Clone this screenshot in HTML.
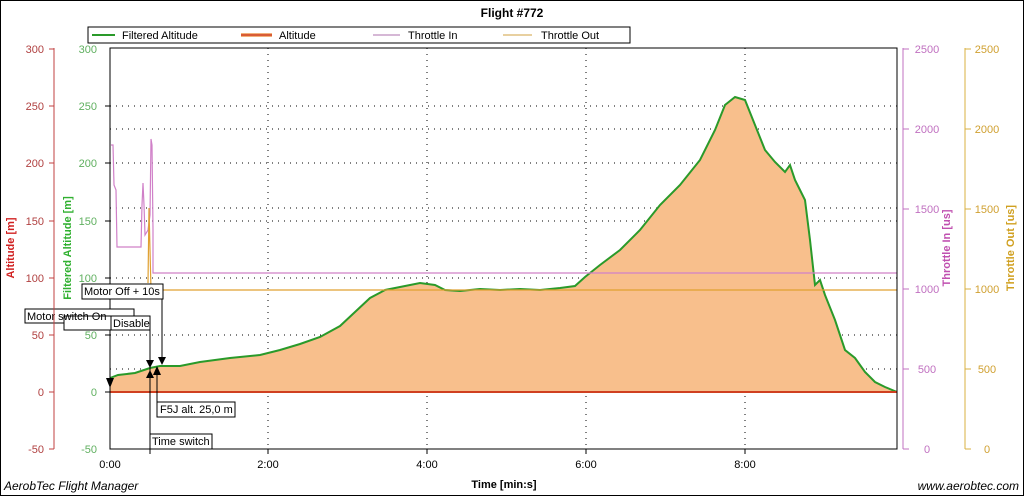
<!DOCTYPE html>
<html><head><meta charset="utf-8"><style>
body{margin:0;background:#fff;}
svg{display:block;font-family:"Liberation Sans",sans-serif;}
</style></head><body>
<svg width="1024" height="496" viewBox="0 0 1024 496" xmlns="http://www.w3.org/2000/svg">
<rect x="0.5" y="0.5" width="1023" height="495" fill="#fff" stroke="#000"/>
<text x="512" y="17" font-size="12" font-weight="bold" text-anchor="middle">Flight #772</text>
<!-- legend -->
<rect x="88" y="27" width="542" height="16" fill="#fff" stroke="#000"/>
<line x1="92" y1="35" x2="115" y2="35" stroke="#2a9a2a" stroke-width="2"/>
<text x="122" y="39" font-size="11">Filtered Altitude</text>
<line x1="241" y1="35" x2="272" y2="35" stroke="#f2b07a" stroke-width="4"/>
<line x1="241" y1="35" x2="272" y2="35" stroke="#d04020" stroke-width="1.5"/>
<text x="279" y="39" font-size="11">Altitude</text>
<line x1="373" y1="35" x2="400" y2="35" stroke="#c8a0c8" stroke-width="1.5"/>
<text x="408" y="39" font-size="11">Throttle In</text>
<line x1="503" y1="35" x2="532" y2="35" stroke="#e0c080" stroke-width="1.5"/>
<text x="541" y="39" font-size="11">Throttle Out</text>
<!-- grid -->
<g stroke="#000" stroke-dasharray="1,5" stroke-width="1">
<line x1="110" y1="106" x2="897" y2="106"/><line x1="110" y1="129" x2="897" y2="129"/>
<line x1="110" y1="163" x2="897" y2="163"/><line x1="110" y1="208" x2="897" y2="208"/>
<line x1="110" y1="221" x2="897" y2="221"/><line x1="110" y1="278" x2="897" y2="278"/>
<line x1="110" y1="335" x2="897" y2="335"/><line x1="110" y1="369" x2="897" y2="369"/>
<line x1="268" y1="48" x2="268" y2="449"/><line x1="427" y1="48" x2="427" y2="449"/>
<line x1="586" y1="48" x2="586" y2="449"/><line x1="745" y1="48" x2="745" y2="449"/>
</g>
<!-- area -->
<polygon fill="#f8bf8c" points="110,392 110,378 118,375 135,373 150,368 160,366 180,366 200,362 230,358 260,355 280,350 300,344 320,337 340,326 355,312 370,298 385,290 400,287 420,283 435,285 445,290 460,291 480,289 500,290 520,289 540,290 560,288 575,286 585,277 600,265 620,250 640,230 660,205 680,185 700,160 715,130 725,105 735,97 745,100 755,125 765,150 775,162 785,172 790,165 795,180 800,190 805,200 810,240 815,285 820,280 825,295 835,320 845,350 855,358 865,372 875,382 885,387 897,392"/>
<polyline fill="none" stroke="#2a9a2a" stroke-width="2" points="110,378 118,375 135,373 150,368 160,366 180,366 200,362 230,358 260,355 280,350 300,344 320,337 340,326 355,312 370,298 385,290 400,287 420,283 435,285 445,290 460,291 480,289 500,290 520,289 540,290 560,288 575,286 585,277 600,265 620,250 640,230 660,205 680,185 700,160 715,130 725,105 735,97 745,100 755,125 765,150 775,162 785,172 790,165 795,180 800,190 805,200 810,240 815,285 820,280 825,295 835,320 845,350 855,358 865,372 875,382 885,387 897,392"/>
<line x1="110" y1="392" x2="897" y2="392" stroke="#d04020" stroke-width="2"/>
<!-- throttle -->
<polyline fill="none" stroke="#d080c8" stroke-width="1.2" points="111,145 113,145 114,185 116,190 117,247 141,247 142,205 143,183 144,205 145,235 148,230 150,215 151,139 152,145 153,230 153,273 897,273"/>
<polyline fill="none" stroke="#e0a030" stroke-width="1.2" points="148,283 149,208 150,250 151,290 897,290"/>
<!-- frame -->
<rect x="110" y="48" width="787" height="401" fill="none" stroke="#000"/>
<!-- annotations -->
<g font-size="11" stroke="none">
<line x1="110" y1="330" x2="110" y2="380" stroke="#000"/>
<polygon points="106,378 114,378 110,388"/>
<rect x="25" y="309" width="109" height="14" fill="#fff" stroke="#000"/>
<rect x="64" y="316" width="86" height="14" fill="#fff" stroke="#000"/>
<text x="27" y="320">Motor switch On</text>
<rect x="111" y="316" width="39" height="14" fill="#fff" stroke="#000"/>
<text x="113" y="327">Disable</text>
<rect x="82" y="284" width="81" height="15" fill="#fff" stroke="#000"/>
<text x="84" y="295">Motor Off + 10s</text>
<line x1="150" y1="330" x2="150" y2="440" stroke="#000"/>
<polygon points="146,360 154,360 150,368"/>
<polygon points="146,378 154,378 150,370"/>
<line x1="162" y1="299" x2="162" y2="360" stroke="#000"/>
<polygon points="158,357 166,357 162,365"/>
<polygon points="153,375 161,375 157,366"/>
<line x1="157" y1="375" x2="157" y2="405" stroke="#000"/>
<rect x="157" y="402" width="78" height="15" fill="#fff" stroke="#000"/>
<text x="160" y="413">F5J alt. 25,0 m</text>
<rect x="150" y="434" width="62" height="15" fill="#fff" stroke="#000"/>
<text x="152" y="445">Time switch</text>
</g>
<!-- left red axis -->
<g stroke="#c04040"><line x1="54" y1="48" x2="54" y2="449"/>
<line x1="49" y1="49" x2="54" y2="49"/><line x1="49" y1="106" x2="54" y2="106"/><line x1="49" y1="163" x2="54" y2="163"/><line x1="49" y1="221" x2="54" y2="221"/><line x1="49" y1="278" x2="54" y2="278"/><line x1="49" y1="335" x2="54" y2="335"/><line x1="49" y1="392" x2="54" y2="392"/><line x1="49" y1="449" x2="54" y2="449"/></g>
<g font-size="11" fill="#b04040" text-anchor="end">
<text x="44" y="53">300</text><text x="44" y="110">250</text><text x="44" y="167">200</text><text x="44" y="225">150</text><text x="44" y="282">100</text><text x="44" y="339">50</text><text x="44" y="396">0</text><text x="44" y="453">-50</text></g>
<text transform="translate(14,248) rotate(-90)" font-size="11" font-weight="bold" fill="#d02020" text-anchor="middle">Altitude [m]</text>
<!-- green axis -->
<g stroke="#000"><line x1="105" y1="106" x2="110" y2="106"/><line x1="105" y1="163" x2="110" y2="163"/><line x1="105" y1="221" x2="110" y2="221"/><line x1="105" y1="278" x2="110" y2="278"/><line x1="105" y1="335" x2="110" y2="335"/><line x1="105" y1="392" x2="110" y2="392"/></g>
<g font-size="11" fill="#60b060" text-anchor="end">
<text x="97" y="53">300</text><text x="97" y="110">250</text><text x="97" y="167">200</text><text x="97" y="225">150</text><text x="97" y="282">100</text><text x="97" y="339">50</text><text x="97" y="396">0</text><text x="97" y="453">-50</text></g>
<text transform="translate(71,248) rotate(-90)" font-size="11" font-weight="bold" fill="#30b030" text-anchor="middle">Filtered Altitude [m]</text>
<!-- x axis -->
<g stroke="#000"><line x1="268" y1="449" x2="268" y2="454"/><line x1="427" y1="449" x2="427" y2="454"/><line x1="586" y1="449" x2="586" y2="454"/><line x1="745" y1="449" x2="745" y2="454"/><line x1="150" y1="449" x2="150" y2="454"/></g>
<g font-size="11" text-anchor="middle"><text x="110" y="468">0:00</text><text x="268" y="468">2:00</text><text x="427" y="468">4:00</text><text x="586" y="468">6:00</text><text x="745" y="468">8:00</text></g>
<text x="504" y="488" font-size="11" font-weight="bold" text-anchor="middle">Time [min:s]</text>
<text x="4" y="490" font-size="12" font-style="italic">AerobTec Flight Manager</text>
<text x="1019" y="490" font-size="12" font-style="italic" text-anchor="end">www.aerobtec.com</text>
<!-- right axes -->
<g stroke="#c070c0"><line x1="903" y1="48" x2="903" y2="449"/><line x1="903" y1="49" x2="909" y2="49"/><line x1="903" y1="129" x2="909" y2="129"/><line x1="903" y1="209" x2="909" y2="209"/><line x1="903" y1="289" x2="909" y2="289"/><line x1="903" y1="369" x2="909" y2="369"/><line x1="903" y1="449" x2="909" y2="449"/></g>
<g font-size="11" fill="#c070c0" text-anchor="middle"><text x="927" y="53">2500</text><text x="927" y="133">2000</text><text x="927" y="213">1500</text><text x="927" y="293">1000</text><text x="927" y="373">500</text><text x="927" y="453">0</text></g>
<text transform="translate(950,248) rotate(-90)" font-size="11" font-weight="bold" fill="#c050b0" text-anchor="middle">Throttle In [us]</text>
<g stroke="#d8b040"><line x1="965" y1="48" x2="965" y2="449"/><line x1="965" y1="49" x2="971" y2="49"/><line x1="965" y1="129" x2="971" y2="129"/><line x1="965" y1="209" x2="971" y2="209"/><line x1="965" y1="289" x2="971" y2="289"/><line x1="965" y1="369" x2="971" y2="369"/><line x1="965" y1="449" x2="971" y2="449"/></g>
<g font-size="11" fill="#d0a030" text-anchor="middle"><text x="987" y="53">2500</text><text x="987" y="133">2000</text><text x="987" y="213">1500</text><text x="987" y="293">1000</text><text x="987" y="373">500</text><text x="987" y="453">0</text></g>
<text transform="translate(1014,248) rotate(-90)" font-size="11" font-weight="bold" fill="#d0a020" text-anchor="middle">Throttle Out [us]</text>
</svg>
</body></html>
